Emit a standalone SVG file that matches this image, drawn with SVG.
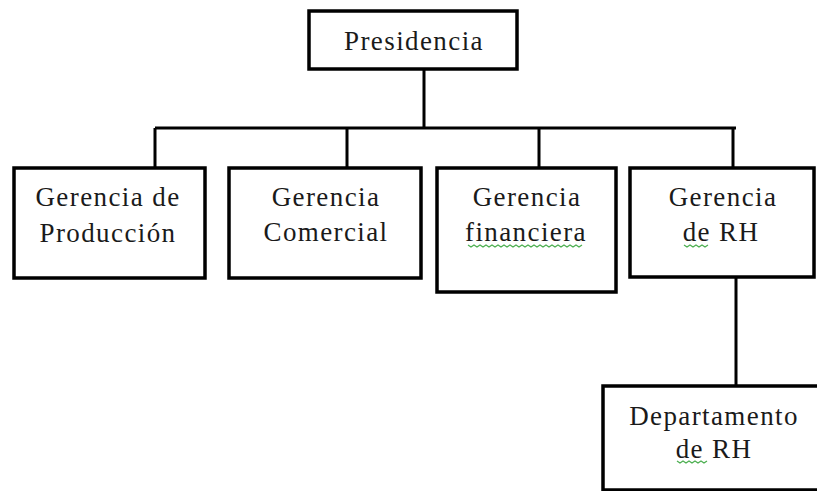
<svg xmlns="http://www.w3.org/2000/svg" width="817" height="491" viewBox="0 0 817 491">
<style>
.box{fill:#fff;stroke:#000;stroke-width:3.5}
.ln{fill:none;stroke:#000;stroke-width:3}
.t{font-family:"Liberation Serif","Times New Roman",serif;font-size:27px;fill:#1a1a1a;text-anchor:middle;letter-spacing:1.4px}
.sq{fill:none;stroke:#4caf50;stroke-width:1.3}
</style>
<rect width="817" height="491" fill="#fff"/>
<g id="connectors">
<path class="ln" d="M424 70V128M155 128H736M155 128V167M347 128V167M539 128V168M733 128V168M736 277V387"/>
</g>
<g id="presidencia">
<rect class="box" x="309" y="11" width="208" height="58"/>
<text class="t" x="414" y="50">Presidencia</text>
</g>
<g id="produccion">
<rect class="box" x="14" y="168" width="191" height="110"/>
<text class="t" x="108" y="206">Gerencia de</text>
<text class="t" x="108" y="242">Producción</text>
</g>
<g id="comercial">
<rect class="box" x="229" y="168" width="192" height="110"/>
<text class="t" x="326" y="206">Gerencia</text>
<text class="t" x="326" y="241">Comercial</text>
</g>
<g id="financiera">
<rect class="box" x="437" y="168" width="179" height="124"/>
<text class="t" x="527" y="206">Gerencia</text>
<text class="t" x="526" y="241">financiera</text>
<path class="sq" d="M468 245l3 2 3-2 3 2 3-2 3 2 3-2 3 2 3-2 3 2 3-2 3 2 3-2 3 2 3-2 3 2 3-2 3 2 3-2 3 2 3-2 3 2 3-2 3 2 3-2 3 2 3-2 3 2 3-2 3 2 3-2 3 2 3-2 3 2 3-2 3 2 3-2 3 2 3-2"/>
</g>
<g id="rh">
<rect class="box" x="630" y="168" width="184" height="109"/>
<text class="t" x="723" y="206">Gerencia</text>
<text class="t" x="721" y="241">de RH</text>
<path class="sq" d="M684 245l3 2 3-2 3 2 3-2 3 2 3-2 3 2 3-2"/>
</g>
<g id="departamento">
<rect class="box" x="603" y="386" width="220" height="104"/>
<text class="t" x="714" y="425">Departamento</text>
<text class="t" x="714" y="458">de RH</text>
<path class="sq" d="M677 461l3 2 3-2 3 2 3-2 3 2 3-2 3 2 3-2 3 2 3-2"/>
</g>
</svg>
